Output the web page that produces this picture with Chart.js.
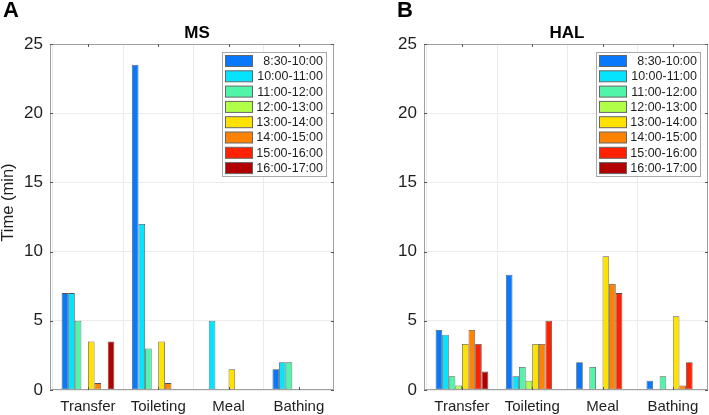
<!DOCTYPE html>
<html>
<head>
<meta charset="utf-8">
<script src="https://cdn.jsdelivr.net/npm/chart.js@4/dist/chart.umd.min.js"></script>
<style>
  html, body { margin: 0; padding: 0; background: #fff; }
  .wrap { position: absolute; top: 0; }
  canvas { display: block; }
</style>
</head>
<body>
<div class="wrap" style="left:0"><canvas id="cA" width="355" height="415"></canvas></div>
<div class="wrap" style="left:355px"><canvas id="cB" width="354" height="415"></canvas></div>
<script>
// ---- data ----
const categories = ['Transfer', 'Toileting', 'Meal', 'Bathing'];
const timeSlots = ['8:30-10:00', '10:00-11:00', '11:00-12:00', '12:00-13:00',
                   '13:00-14:00', '14:00-15:00', '15:00-16:00', '16:00-17:00'];
const slotColors = ['#0a78fa', '#05e3fd', '#50f5aa', '#b2ff48',
                    '#ffe200', '#ff8200', '#ff2200', '#b20000'];
const yTicks = [0, 5, 10, 15, 20, 25];

// values per time slot, over categories (Transfer, Toileting, Meal, Bathing)
const msValues = [
  [7, 23.5, 0, 1.5],
  [7, 12, 5, 2],
  [5, 3, 0, 2],
  [0, 0, 0, 0],
  [3.5, 3.5, 1.5, 0],
  [0.5, 0.5, 0, 0],
  [0, 0, 0, 0],
  [3.5, 0, 0, 0]
];
const halValues = [
  [4.33, 8.33, 2, 0.67],
  [4, 1, 0, 0],
  [1, 1.67, 1.67, 1],
  [0.33, 0.67, 0, 0],
  [3.33, 3.33, 9.67, 5.33],
  [4.33, 3.33, 7.67, 0.33],
  [3.33, 5, 7, 2],
  [1.33, 0, 0, 0]
];

const FONT = '"Liberation Sans", Arial, Helvetica, sans-serif';
const TXT = '#1e1e1e';

function makeChart(canvasId, values, opts) {
  const decor = {
    id: 'decor',
    beforeDraw(chart) {
      const ctx = chart.ctx;
      ctx.save();
      ctx.fillStyle = '#fff';
      ctx.fillRect(0, 0, chart.width, chart.height);
      ctx.restore();
    },
    afterDraw(chart) {
      const ctx = chart.ctx;
      const a = chart.chartArea;
      const xs = chart.scales.x, ys = chart.scales.y;
      ctx.save();
      // frame
      ctx.strokeStyle = '#a0a0a0';
      ctx.lineWidth = 1;
      ctx.strokeRect(a.left + 0.5, a.top + 0.5, a.right - a.left - 1, a.bottom - a.top - 1);
      // inner tick marks
      ctx.strokeStyle = '#555';
      ctx.beginPath();
      yTicks.forEach(v => {
        const y = Math.round(ys.getPixelForValue(v)) + 0.5;
        ctx.moveTo(a.left, y); ctx.lineTo(a.left + 3, y);
        ctx.moveTo(a.right, y); ctx.lineTo(a.right - 3, y);
      });
      categories.forEach((c, i) => {
        const x = Math.round(xs.getPixelForValue(i + 1)) + 0.5;
        ctx.moveTo(x, a.bottom); ctx.lineTo(x, a.bottom - 3);
        ctx.moveTo(x, a.top); ctx.lineTo(x, a.top + 3);
      });
      ctx.stroke();

      // panel letter
      ctx.fillStyle = '#000';
      ctx.font = 'bold 22px ' + FONT;
      ctx.textBaseline = 'alphabetic';
      ctx.textAlign = 'left';
      ctx.fillText(opts.letter, opts.letterX, 17);
      // title
      ctx.fillStyle = '#000';
      ctx.font = 'bold 17px ' + FONT;
      ctx.textAlign = 'center';
      ctx.fillText(opts.title, opts.titleX, 37.5);
      // y title
      if (opts.yTitle) {
        ctx.save();
        ctx.translate(13, 202.5);
        ctx.rotate(-Math.PI / 2);
        ctx.fillStyle = TXT;
        ctx.font = '16.5px ' + FONT;
        ctx.textAlign = 'center';
        ctx.textBaseline = 'alphabetic';
        ctx.fillText(opts.yTitle, 0, 0);
        ctx.restore();
      }
      // legend
      const bw = 105, bh = 125;
      const bx = a.right - 7 - bw, by = a.top + 8;
      ctx.fillStyle = '#fff';
      ctx.fillRect(bx, by, bw, bh);
      ctx.strokeStyle = '#a8a8a8';
      ctx.strokeRect(bx + 0.5, by + 0.5, bw - 1, bh - 1);
      ctx.font = '12.5px ' + FONT;
      ctx.textBaseline = 'middle';
      ctx.textAlign = 'right';
      chart.data.datasets.forEach((ds, i) => {
        const cy = by + 9 + i * 15.3;
        ctx.fillStyle = ds.backgroundColor;
        ctx.fillRect(bx + 3, cy - 5.5, 28, 11);
        ctx.strokeStyle = '#666';
        ctx.strokeRect(bx + 3.5, cy - 5.5, 27, 11);
        ctx.fillStyle = TXT;
        ctx.fillText(ds.label, bx + bw - 4, cy + 0.5);
      });
      ctx.restore();
    }
  };

  return new Chart(document.getElementById(canvasId), {
    type: 'bar',
    data: {
      datasets: timeSlots.map((slot, s) => ({
        label: slot,
        data: categories.map((c, i) => ({ x: i + 1, y: values[s][i] })),
        backgroundColor: slotColors[s],
        borderColor: 'rgba(40,40,40,0.8)',
        borderWidth: 0.8,
        borderSkipped: false,
        categoryPercentage: 0.75,
        barPercentage: 1
      }))
    },
    options: {
      responsive: false,
      animation: false,
      events: [],
      layout: { padding: { top: 44, bottom: 0, left: 0, right: opts.padRight }, autoPadding: false },
      plugins: { legend: { display: false }, tooltip: { enabled: false }, title: { display: false } },
      scales: {
        x: {
          type: 'linear',
          min: 0.46, max: 4.5,
          offset: false,
          grid: { color: '#ebebeb', drawTicks: false },
          border: { display: false },
          ticks: {
            stepSize: 1, includeBounds: false, autoSkip: false, maxRotation: 0,
            padding: 8, color: TXT, font: { size: 15, family: FONT },
            callback: v => Number.isInteger(v) && v >= 1 && v <= categories.length ? categories[v - 1] : ''
          },
          afterFit: s => { s.height = 25; }
        },
        y: {
          min: 0, max: 25,
          grid: { color: '#ebebeb', drawTicks: false },
          border: { display: false },
          ticks: { stepSize: 5, padding: 7, color: TXT, font: { size: 17, family: FONT } },
          afterFit: s => { s.width = opts.yWidth; }
        }
      }
    },
    plugins: [decor]
  });
}

makeChart('cA', msValues, { letter: 'A', letterX: 3, title: 'MS', titleX: 197, yTitle: 'Time (min)', yWidth: 50, padRight: 21 });
makeChart('cB', halValues, { letter: 'B', letterX: 42, title: 'HAL', titleX: 212, yTitle: null, yWidth: 69, padRight: 1 });
</script>
</body>
</html>
